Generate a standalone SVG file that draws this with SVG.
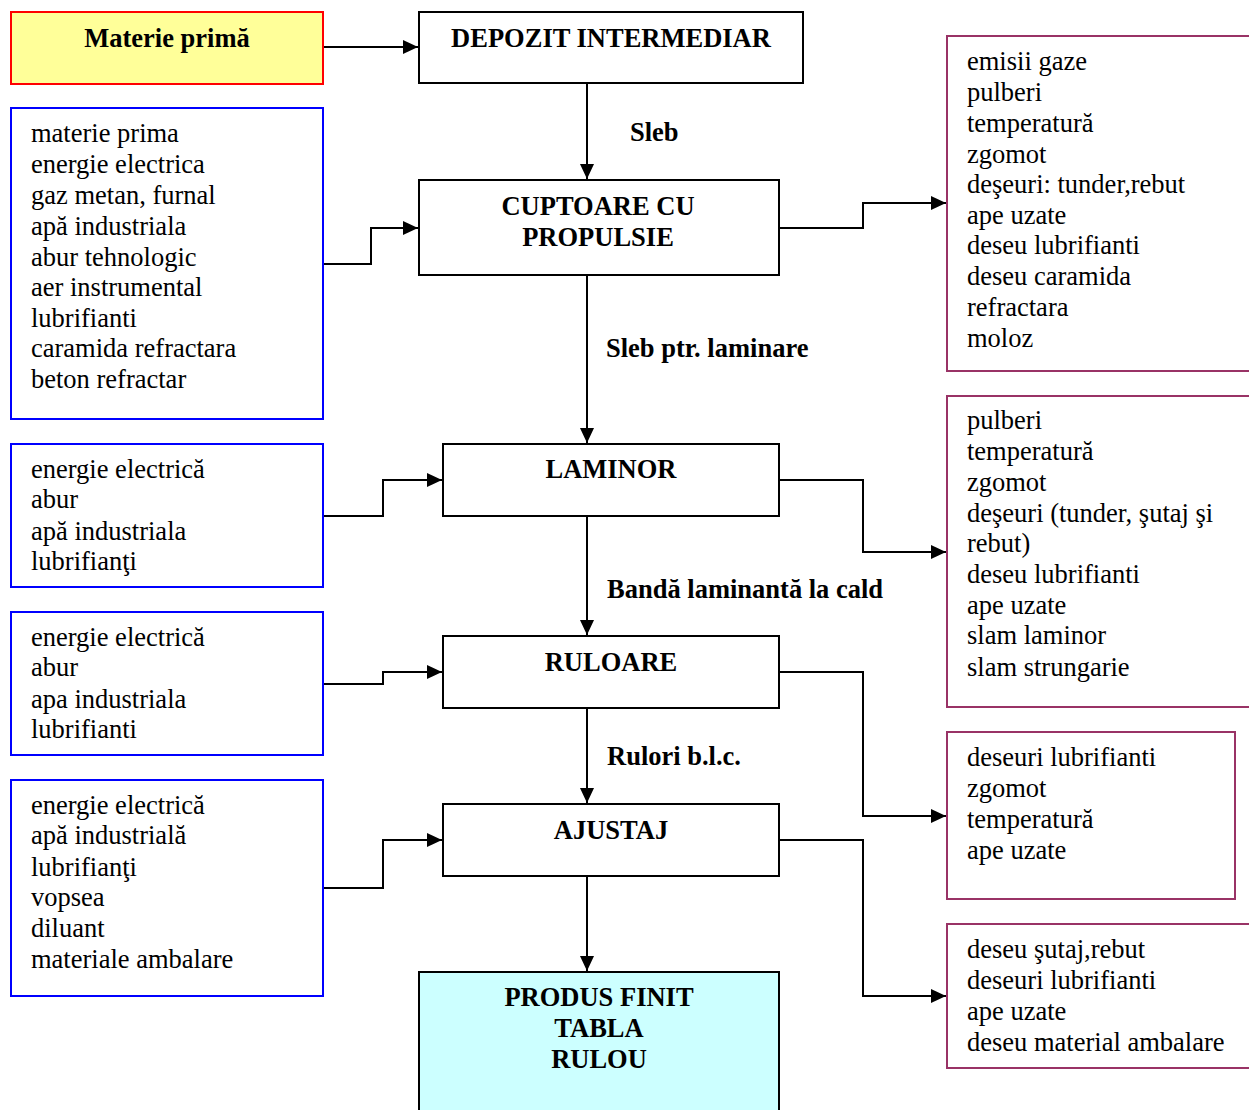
<svg xmlns="http://www.w3.org/2000/svg" width="1249" height="1110" viewBox="0 0 1249 1110">
<style>
.box{fill:#fff;stroke:#000;stroke-width:2}
.in{fill:#fff;stroke:#0000ff;stroke-width:2}
.out{fill:#fff;stroke:#993366;stroke-width:2}
.c{fill:none;stroke:#000;stroke-width:2}
.b{font-family:"Liberation Serif",serif;font-weight:bold;font-size:26.5px;fill:#000}
.t{font-family:"Liberation Serif",serif;font-size:26.5px;fill:#000}
.m{text-anchor:middle}
</style>
<defs>
<marker id="a" markerUnits="userSpaceOnUse" markerWidth="16" markerHeight="16" viewBox="0 0 16 16" refX="15" refY="8" orient="auto">
<path d="M0,1 L15,8 L0,15 Z" fill="#000"/>
</marker>
</defs>
<rect width="1249" height="1110" fill="#fff"/>
<g id="connectors">
<path class="c" d="M323,47 H418" marker-end="url(#a)"/>
<path class="c" d="M587,83 V179" marker-end="url(#a)"/>
<path class="c" d="M323,264 H371 V228 H418" marker-end="url(#a)"/>
<path class="c" d="M779,228 H863 V203 H946" marker-end="url(#a)"/>
<path class="c" d="M587,275 V443" marker-end="url(#a)"/>
<path class="c" d="M323,516 H383 V480 H442" marker-end="url(#a)"/>
<path class="c" d="M779,480 H863 V552 H946" marker-end="url(#a)"/>
<path class="c" d="M587,516 V635" marker-end="url(#a)"/>
<path class="c" d="M323,684 H383 V672 H442" marker-end="url(#a)"/>
<path class="c" d="M779,672 H863 V816 H946" marker-end="url(#a)"/>
<path class="c" d="M587,708 V803" marker-end="url(#a)"/>
<path class="c" d="M323,888 H383 V840 H442" marker-end="url(#a)"/>
<path class="c" d="M779,840 H863 V996 H946" marker-end="url(#a)"/>
<path class="c" d="M587,876 V971" marker-end="url(#a)"/>
<text class="b" x="630" y="141">Sleb</text>
<text class="b" x="606" y="357">Sleb ptr. laminare</text>
<text class="b" x="607" y="598">Bandă laminantă la cald</text>
<text class="b" x="607" y="765">Rulori b.l.c.</text>
</g>
<g id="materie-prima">
<rect x="11" y="12" width="312" height="72" fill="#ffff99" stroke="#ff0000" stroke-width="2"/>
<text class="b m" x="167" y="47">Materie primă</text>
</g>
<g id="depozit">
<rect class="box" x="419" y="12" width="384" height="71"/>
<text class="b m" x="611" y="47">DEPOZIT INTERMEDIAR</text>
</g>
<g id="cuptoare">
<rect class="box" x="419" y="180" width="360" height="95"/>
<text class="b m" x="598" y="215">CUPTOARE CU</text>
<text class="b m" x="598" y="246">PROPULSIE</text>
</g>
<g id="laminor">
<rect class="box" x="443" y="444" width="336" height="72"/>
<text class="b m" x="611" y="478">LAMINOR</text>
</g>
<g id="ruloare">
<rect class="box" x="443" y="636" width="336" height="72"/>
<text class="b m" x="611" y="671">RULOARE</text>
</g>
<g id="ajustaj">
<rect class="box" x="443" y="804" width="336" height="72"/>
<text class="b m" x="611" y="839">AJUSTAJ</text>
</g>
<g id="produs-finit">
<rect x="419" y="972" width="360" height="150" fill="#ccffff" stroke="#000" stroke-width="2"/>
<text class="b m" x="599" y="1006">PRODUS FINIT</text>
<text class="b m" x="599" y="1037">TABLA</text>
<text class="b m" x="599" y="1068">RULOU</text>
</g>
<g id="in-cuptoare">
<rect class="in" x="11" y="108" width="312" height="311"/>
<text class="t" x="31" y="142">materie prima</text>
<text class="t" x="31" y="173">energie electrica</text>
<text class="t" x="31" y="204">gaz metan, furnal</text>
<text class="t" x="31" y="235">apă industriala</text>
<text class="t" x="31" y="266">abur tehnologic</text>
<text class="t" x="31" y="296">aer instrumental</text>
<text class="t" x="31" y="327">lubrifianti</text>
<text class="t" x="31" y="357">caramida refractara</text>
<text class="t" x="31" y="388">beton refractar</text>
</g>
<g id="in-laminor">
<rect class="in" x="11" y="444" width="312" height="143"/>
<text class="t" x="31" y="478">energie electrică</text>
<text class="t" x="31" y="508">abur</text>
<text class="t" x="31" y="540">apă industriala</text>
<text class="t" x="31" y="570">lubrifianţi</text>
</g>
<g id="in-ruloare">
<rect class="in" x="11" y="612" width="312" height="143"/>
<text class="t" x="31" y="646">energie electrică</text>
<text class="t" x="31" y="676">abur</text>
<text class="t" x="31" y="708">apa industriala</text>
<text class="t" x="31" y="738">lubrifianti</text>
</g>
<g id="in-ajustaj">
<rect class="in" x="11" y="780" width="312" height="216"/>
<text class="t" x="31" y="814">energie electrică</text>
<text class="t" x="31" y="844">apă industrială</text>
<text class="t" x="31" y="876">lubrifianţi</text>
<text class="t" x="31" y="906">vopsea</text>
<text class="t" x="31" y="937">diluant</text>
<text class="t" x="31" y="968">materiale ambalare</text>
</g>
<g id="out-cuptoare">
<rect class="out" x="947" y="36" width="320" height="335"/>
<text class="t" x="967" y="70">emisii gaze</text>
<text class="t" x="967" y="101">pulberi</text>
<text class="t" x="967" y="132">temperatură</text>
<text class="t" x="967" y="163">zgomot</text>
<text class="t" x="967" y="193">deşeuri: tunder,rebut</text>
<text class="t" x="967" y="224">ape uzate</text>
<text class="t" x="967" y="254">deseu lubrifianti</text>
<text class="t" x="967" y="285">deseu caramida</text>
<text class="t" x="967" y="316">refractara</text>
<text class="t" x="967" y="347">moloz</text>
</g>
<g id="out-laminor">
<rect class="out" x="947" y="396" width="320" height="311"/>
<text class="t" x="967" y="429">pulberi</text>
<text class="t" x="967" y="460">temperatură</text>
<text class="t" x="967" y="491">zgomot</text>
<text class="t" x="967" y="522">deşeuri (tunder, şutaj şi</text>
<text class="t" x="967" y="552">rebut)</text>
<text class="t" x="967" y="583">deseu lubrifianti</text>
<text class="t" x="967" y="614">ape uzate</text>
<text class="t" x="967" y="644">slam laminor</text>
<text class="t" x="967" y="676">slam strungarie</text>
</g>
<g id="out-ruloare">
<rect class="out" x="947" y="732" width="288" height="167"/>
<text class="t" x="967" y="766">deseuri lubrifianti</text>
<text class="t" x="967" y="797">zgomot</text>
<text class="t" x="967" y="828">temperatură</text>
<text class="t" x="967" y="859">ape uzate</text>
</g>
<g id="out-ajustaj">
<rect class="out" x="947" y="924" width="320" height="144"/>
<text class="t" x="967" y="958">deseu şutaj,rebut</text>
<text class="t" x="967" y="989">deseuri lubrifianti</text>
<text class="t" x="967" y="1020">ape uzate</text>
<text class="t" x="967" y="1051">deseu material ambalare</text>
</g>
</svg>
